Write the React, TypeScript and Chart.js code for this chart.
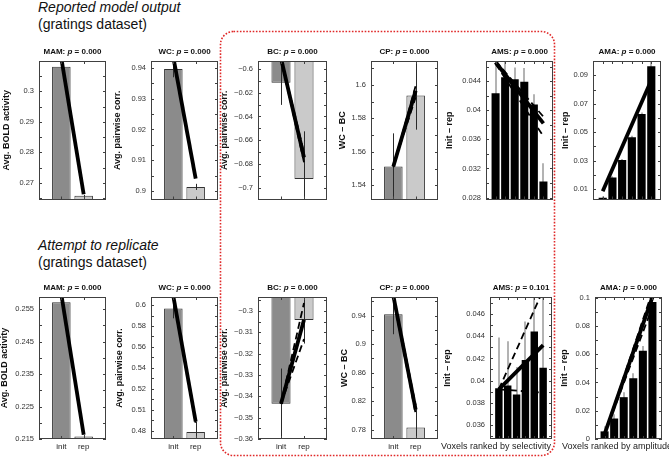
import React, { useEffect, useRef } from 'react';
import { Chart, registerables } from 'chart.js';
Chart.register(...registerables);

const FONT = '"Liberation Sans", Arial, Helvetica, sans-serif';

// ---------- Row 1: reported model output ----------
const r1MamRange = [0.2646, 0.3099];
const r1MamBars = [0.308, 0.2658];
const r1MamErr = [0.0005, 0.0003];
const r1MamFit = [0.3108, 0.2663];
const r1MamTicks = [0.265, 0.27, 0.275, 0.28, 0.285, 0.29, 0.295, 0.3, 0.305];
const r1MamTickText = ['', '0.27', '', '0.28', '', '0.29', '', '0.3', ''];

const r1WcRange = [0.8972, 0.9423];
const r1WcBars = [0.9397, 0.9013];
const r1WcErr = [0.0027, 0.001];
const r1WcFit = [0.9435, 0.904];
const r1WcTicks = [0.9, 0.905, 0.91, 0.915, 0.92, 0.925, 0.93, 0.935, 0.94];
const r1WcTickText = ['0.9', '', '0.91', '', '0.92', '', '0.93', '', '0.94'];

const r1BcRange = [-0.7098, -0.5934];
const r1BcBars = [-0.6117, -0.6925];
const r1BcErr = [0.0186, 0.04];
const r1BcFit = [-0.591, -0.6745];
const r1BcDashA = [-0.5905, -0.6705];
const r1BcDashB = [-0.5915, -0.6785];
const r1BcTicks = [-0.7, -0.69, -0.68, -0.67, -0.66, -0.65, -0.64, -0.63, -0.62, -0.61, -0.6];
const r1BcTickText = ['−0.7', '', '−0.68', '', '−0.66', '', '−0.64', '', '−0.62', '', '−0.6'];

const r1CpRange = [1.5315, 1.6142];
const r1CpBars = [1.5512, 1.5936];
const r1CpErr = [0.0198, 0.0204];
const r1CpFit = [1.5512, 1.5965];
const r1CpDashA = [1.5508, 1.5995];
const r1CpDashB = [1.5516, 1.5925];
const r1CpTicks = [1.54, 1.55, 1.56, 1.57, 1.58, 1.59, 1.6, 1.61];
const r1CpTickText = ['1.54', '', '1.56', '', '1.58', '', '1.6', ''];

const r1AmsRange = [0.02773, 0.04677];
const r1AmsBars = [0.04235, 0.04454, 0.04427, 0.04392, 0.0408, 0.0302];
const r1AmsErr = [0.004, 0.0035, 0.0016, 0.0019, 0.0014, 0.0025];
const r1AmsFit = [0.0466, 0.0382];
const r1AmsDashA = [0.0468, 0.0391];
const r1AmsDashB = [0.0464, 0.0364];
const r1AmsTicks = [0.028, 0.03, 0.032, 0.034, 0.036, 0.038, 0.04, 0.042, 0.044, 0.046];
const r1AmsTickText = ['0.028', '', '0.032', '', '0.036', '', '0.04', '', '0.044', ''];

const r1AmaRange = [0.0027, 0.1001];
const r1AmaBars = [0.004, 0.0182, 0.0304, 0.0464, 0.0628, 0.0964];
const r1AmaErr = [0.0008, 0.0008, 0.0008, 0.0012, 0.001, 0.003];
const r1AmaFit = [0.0085, 0.0865];
const r1AmaTicks = [0.01, 0.02, 0.03, 0.04, 0.05, 0.06, 0.07, 0.08, 0.09, 0.1];
const r1AmaTickText = ['0.01', '', '0.03', '', '0.05', '', '0.07', '', '0.09', ''];

// ---------- Row 2: attempt to replicate ----------
const r2MamRange = [0.215, 0.2587];
const r2MamBars = [0.2571, 0.2158];
const r2MamErr = [0.0006, 0.0004];
const r2MamFit = [0.2595, 0.2163];
const r2MamTicks = [0.215, 0.22, 0.225, 0.23, 0.235, 0.24, 0.245, 0.25, 0.255];
const r2MamTickText = ['0.215', '', '0.225', '', '0.235', '', '0.245', '', '0.255'];

const r2WcRange = [0.4719, 0.6077];
const r2WcBars = [0.5968, 0.4787];
const r2WcErr = [0.0095, 0.0099];
const r2WcFit = [0.6085, 0.4886];
const r2WcDashA = [0.608, 0.487];
const r2WcDashB = [0.609, 0.4902];
const r2WcTicks = [0.48, 0.49, 0.5, 0.51, 0.52, 0.53, 0.54, 0.55, 0.56, 0.57, 0.58, 0.59, 0.6];
const r2WcTickText = ['0.48', '', '0.51', '', '0.52', '', '0.54', '', '0.56', '', '0.58', '', '0.6'];

const r2BcRange = [-0.36, -0.2935];
const r2BcBars = [-0.3435, -0.3043];
const r2BcErr = [0.0165, 0.011];
const r2BcFit = [-0.3435, -0.3042];
const r2BcDashA = [-0.3435, -0.2963];
const r2BcDashB = [-0.3435, -0.3132];
const r2BcTicks = [-0.36, -0.355, -0.35, -0.345, -0.34, -0.335, -0.33, -0.325, -0.32, -0.315, -0.31, -0.305, -0.3, -0.295];
const r2BcTickText = ['−0.36', '', '−0.35', '', '−0.34', '', '−0.33', '', '−0.32', '', '−0.31', '', '−0.3', ''];

const r2CpRange = [0.7667, 0.9662];
const r2CpBars = [0.9419, 0.7828];
const r2CpErr = [0.028, 0.029];
const r2CpFit = [0.968, 0.808];
const r2CpDashA = [0.966, 0.802];
const r2CpDashB = [0.97, 0.814];
const r2CpTicks = [0.78, 0.8, 0.82, 0.84, 0.86, 0.88, 0.9, 0.92, 0.94, 0.96];
const r2CpTickText = ['0.78', '', '0.82', '', '0.86', '', '0.9', '', '0.94', ''];

const r2AmsRange = [0.0347, 0.04757];
const r2AmsBars = [0.03931, 0.03955, 0.03873, 0.04185, 0.04445, 0.04115];
const r2AmsErr = [0.0046, 0.004, 0.0025, 0.0035, 0.0038, 0.007];
const r2AmsFit = [0.0392, 0.0432];
const r2AmsDashA = [0.0392, 0.0482];
const r2AmsDashB = [0.0392, 0.0389];
const r2AmsTicks = [0.035, 0.036, 0.037, 0.038, 0.039, 0.04, 0.041, 0.042, 0.043, 0.044, 0.045, 0.046, 0.047];
const r2AmsTickText = ['', '0.036', '', '0.038', '', '0.04', '', '0.042', '', '0.044', '', '0.046', ''];

const r2AmaRange = [0, 0.1005];
const r2AmaBars = [0.0054, 0.0145, 0.0296, 0.043, 0.0625, 0.0969];
const r2AmaErr = [0.0037, 0.003, 0.0035, 0.0036, 0.0033, 0.004];
const r2AmaFit = [0.0035, 0.1005];
const r2AmaDashA = [0.0035, 0.0935];
const r2AmaDashB = [0.0035, 0.1045];
const r2AmaTicks = [0, 0.01, 0.02, 0.03, 0.04, 0.05, 0.06, 0.07, 0.08, 0.09, 0.1];
const r2AmaTickText = ['0', '', '0.02', '', '0.04', '', '0.06', '', '0.08', '', '0.1'];

const pairLabels = ['init', 'rep'];

type Spec = {
  key: string; row: number; name: string; p: string; yTitle: string; xTitle?: string;
  range: number[]; bars: number[]; err: number[]; fit: number[]; dashed: number[][];
  ticks: number[]; tickText: string[];
};

const specs: Spec[] = [
  { key: 'r1mam', row: 1, name: 'MAM', p: '0.000', yTitle: 'Avg. BOLD activity', range: r1MamRange, bars: r1MamBars, err: r1MamErr, fit: r1MamFit, dashed: [], ticks: r1MamTicks, tickText: r1MamTickText },
  { key: 'r1wc', row: 1, name: 'WC', p: '0.000', yTitle: 'Avg. pairwise corr.', range: r1WcRange, bars: r1WcBars, err: r1WcErr, fit: r1WcFit, dashed: [], ticks: r1WcTicks, tickText: r1WcTickText },
  { key: 'r1bc', row: 1, name: 'BC', p: '0.000', yTitle: 'Avg. pairwise corr.', range: r1BcRange, bars: r1BcBars, err: r1BcErr, fit: r1BcFit, dashed: [r1BcDashA, r1BcDashB], ticks: r1BcTicks, tickText: r1BcTickText },
  { key: 'r1cp', row: 1, name: 'CP', p: '0.000', yTitle: 'WC – BC', range: r1CpRange, bars: r1CpBars, err: r1CpErr, fit: r1CpFit, dashed: [r1CpDashA, r1CpDashB], ticks: r1CpTicks, tickText: r1CpTickText },
  { key: 'r1ams', row: 1, name: 'AMS', p: '0.000', yTitle: 'Init – rep', range: r1AmsRange, bars: r1AmsBars, err: r1AmsErr, fit: r1AmsFit, dashed: [r1AmsDashA, r1AmsDashB], ticks: r1AmsTicks, tickText: r1AmsTickText },
  { key: 'r1ama', row: 1, name: 'AMA', p: '0.000', yTitle: 'Init – rep', range: r1AmaRange, bars: r1AmaBars, err: r1AmaErr, fit: r1AmaFit, dashed: [], ticks: r1AmaTicks, tickText: r1AmaTickText },
  { key: 'r2mam', row: 2, name: 'MAM', p: '0.000', yTitle: 'Avg. BOLD activity', range: r2MamRange, bars: r2MamBars, err: r2MamErr, fit: r2MamFit, dashed: [], ticks: r2MamTicks, tickText: r2MamTickText },
  { key: 'r2wc', row: 2, name: 'WC', p: '0.000', yTitle: 'Avg. pairwise corr.', range: r2WcRange, bars: r2WcBars, err: r2WcErr, fit: r2WcFit, dashed: [r2WcDashA, r2WcDashB], ticks: r2WcTicks, tickText: r2WcTickText },
  { key: 'r2bc', row: 2, name: 'BC', p: '0.000', yTitle: 'Avg. pairwise corr.', range: r2BcRange, bars: r2BcBars, err: r2BcErr, fit: r2BcFit, dashed: [r2BcDashA, r2BcDashB], ticks: r2BcTicks, tickText: r2BcTickText },
  { key: 'r2cp', row: 2, name: 'CP', p: '0.000', yTitle: 'WC – BC', range: r2CpRange, bars: r2CpBars, err: r2CpErr, fit: r2CpFit, dashed: [r2CpDashA, r2CpDashB], ticks: r2CpTicks, tickText: r2CpTickText },
  { key: 'r2ams', row: 2, name: 'AMS', p: '0.101', yTitle: 'Init – rep', xTitle: 'Voxels ranked by selectivity', range: r2AmsRange, bars: r2AmsBars, err: r2AmsErr, fit: r2AmsFit, dashed: [r2AmsDashA, r2AmsDashB], ticks: r2AmsTicks, tickText: r2AmsTickText },
  { key: 'r2ama', row: 2, name: 'AMA', p: '0.000', yTitle: 'Init – rep', xTitle: 'Voxels ranked by amplitude', range: r2AmaRange, bars: r2AmaBars, err: r2AmaErr, fit: r2AmaFit, dashed: [r2AmaDashA, r2AmaDashB], ticks: r2AmaTicks, tickText: r2AmaTickText },
];

// layout (pixel geometry)
const LAYOUT: Record<string, { left: number; right: number; yTitleX: number; cRight?: number; xTitleX?: number }> = {
  r1mam: { left: 39, right: 106, yTitleX: 7 },
  r1wc: { left: 151, right: 218, yTitleX: 118 },
  r1bc: { left: 258, right: 327, yTitleX: 225 },
  r1cp: { left: 371, right: 438, yTitleX: 343 },
  r1ams: { left: 486, right: 553, yTitleX: 450 },
  r1ama: { left: 593, right: 661, yTitleX: 566, cRight: 669 },
  r2mam: { left: 39, right: 106, yTitleX: 5 },
  r2wc: { left: 151, right: 218, yTitleX: 120 },
  r2bc: { left: 258, right: 327, yTitleX: 225 },
  r2cp: { left: 371, right: 438, yTitleX: 345 },
  r2ams: { left: 490, right: 552, yTitleX: 448, xTitleX: 496 },
  r2ama: { left: 595, right: 662, yTitleX: 565, cRight: 669, xTitleX: 617 },
};

function Panel({ spec }: { spec: Spec }) {
  const ref = useRef<HTMLCanvasElement>(null);
  const g = LAYOUT[spec.key];
  const top = spec.row === 1 ? 61 : 297;
  const bottom = spec.row === 1 ? 203 : 439;
  const cLeft = Math.max(0, Math.round(g.yTitleX - 7));
  const cTop = top - 22;
  const cRight = g.cRight ?? g.right + 3;
  const xH = spec.row === 1 ? 6 : 17;
  const w = cRight - cLeft;
  const h = bottom + xH - cTop;

  useEffect(() => {
    const n = spec.bars.length;
    const black = n > 2;
    const showPairLabels = spec.row === 2 && n === 2;

    const drawErr = (chart: any) => {
      const ctx = chart.ctx;
      const xs = chart.scales.x;
      const ys = chart.scales.y;
      const a = chart.chartArea;
      ctx.save();
      ctx.beginPath();
      ctx.rect(a.left, a.top, a.right - a.left, a.bottom - a.top);
      ctx.clip();
      ctx.strokeStyle = black ? '#9a9a9a' : '#2a2a2a';
      ctx.lineWidth = black ? 1.5 : 1;
      spec.bars.forEach((v, i) => {
        const px = Math.round(xs.getPixelForValue(i + 1)) + (black ? 0 : 0.5);
        ctx.beginPath();
        ctx.moveTo(px, ys.getPixelForValue(v - spec.err[i]));
        ctx.lineTo(px, ys.getPixelForValue(v + spec.err[i]));
        ctx.stroke();
      });
      ctx.restore();
    };

    const deco = {
      id: 'deco',
      beforeDatasetDraw(chart: any, args: any) {
        if (args.index === 0 && black) drawErr(chart);
      },
      afterDatasetDraw(chart: any, args: any) {
        if (args.index === 0 && !black) drawErr(chart);
      },
      afterDatasetsDraw(chart: any) {
        const ctx = chart.ctx;
        const a = chart.chartArea;
        const xs = chart.scales.x;
        const ys = chart.scales.y;
        ctx.save();
        // box
        ctx.strokeStyle = '#404040';
        ctx.lineWidth = 1;
        ctx.strokeRect(Math.round(a.left) + 0.5, Math.round(a.top) + 0.5, Math.round(a.right - a.left) - 1, Math.round(a.bottom - a.top) - 1);
        // inward ticks
        ctx.beginPath();
        spec.ticks.forEach((t) => {
          const py = Math.round(ys.getPixelForValue(t)) + 0.5;
          ctx.moveTo(a.left, py); ctx.lineTo(a.left + 3, py);
          ctx.moveTo(a.right, py); ctx.lineTo(a.right - 3, py);
        });
        spec.bars.forEach((_, i) => {
          const px = Math.round(xs.getPixelForValue(i + 1)) + 0.5;
          ctx.moveTo(px, a.top); ctx.lineTo(px, a.top + 3);
          ctx.moveTo(px, a.bottom); ctx.lineTo(px, a.bottom - 3);
        });
        ctx.stroke();
        // title with italic p
        const parts: [string, string][] = [
          [`bold 8px ${FONT}`, `${spec.name}: `],
          [`italic bold 8px ${FONT}`, 'p'],
          [`bold 8px ${FONT}`, ` = ${spec.p}`],
        ];
        let total = 0;
        parts.forEach(([f, s]) => { ctx.font = f; total += ctx.measureText(s).width; });
        let x = (a.left + a.right) / 2 - total / 2;
        ctx.fillStyle = '#111';
        ctx.textBaseline = 'middle';
        ctx.textAlign = 'left';
        parts.forEach(([f, s]) => { ctx.font = f; ctx.fillText(s, x, a.top - 9); x += ctx.measureText(s).width; });
        // y title
        ctx.save();
        ctx.translate(g.yTitleX - cLeft, (a.top + a.bottom) / 2);
        ctx.rotate(-Math.PI / 2);
        ctx.font = `bold 9px ${FONT}`;
        ctx.textAlign = 'center';
        ctx.textBaseline = 'middle';
        ctx.fillText(spec.yTitle, 0, 0);
        ctx.restore();
        // x title
        if (spec.xTitle) {
          ctx.font = `9px ${FONT}`;
          ctx.fillStyle = '#222';
          ctx.textAlign = 'center';
          ctx.textBaseline = 'middle';
          ctx.fillText(spec.xTitle, (g.xTitleX ?? (a.left + a.right) / 2) - cLeft, 447 - cTop);
        }
        ctx.restore();
      },
    };

    const line = (vals: number[], dashedStyle: boolean) => ({
      type: 'line' as const,
      data: [{ x: 1, y: vals[0] }, { x: n, y: vals[1] }],
      borderColor: '#000',
      borderWidth: dashedStyle ? 1.8 : 3.8,
      borderDash: dashedStyle ? [7, 4] : [],
      pointRadius: 0,
      order: dashedStyle ? 2 : 1,
      clip: 0,
    });

    const chart = new Chart(ref.current as HTMLCanvasElement, {
      type: 'bar',
      data: {
        datasets: [
          {
            type: 'bar',
            data: spec.bars.map((v, i) => ({ x: i + 1, y: v })),
            backgroundColor: black ? '#000' : ['#8b8b8b', '#cacaca'],
            borderColor: '#333',
            borderWidth: black ? 0 : 1,
            borderSkipped: false,
            categoryPercentage: 1,
            barPercentage: black ? 0.84 : 0.83,
            order: 10,
            clip: 0,
          } as any,
          ...spec.dashed.map((d) => line(d, true)),
          line(spec.fit, false),
        ],
      },
      options: {
        responsive: false,
        animation: false,
        devicePixelRatio: 1,
        events: [],
        layout: { padding: { top: top - cTop, right: cRight - g.right, left: 0, bottom: 0 } },
        plugins: { legend: { display: false }, tooltip: { enabled: false }, title: { display: false } },
        scales: {
          x: {
            type: 'linear',
            min: 0,
            max: n + 1,
            offset: false,
            grid: { display: false, drawTicks: false },
            border: { display: false },
            afterBuildTicks: (s: any) => { s.ticks = spec.bars.map((_, i) => ({ value: i + 1 })); },
            afterFit: (s: any) => { s.height = xH; },
            ticks: {
              display: showPairLabels,
              autoSkip: false,
              maxRotation: 0,
              padding: 3,
              font: { family: FONT, size: 8 },
              color: '#222',
              callback: (_v: any, i: number) => (showPairLabels ? pairLabels[i] : ''),
            },
          },
          y: {
            type: 'linear',
            min: spec.range[0],
            max: spec.range[1],
            grid: { display: false, drawTicks: false },
            border: { display: false },
            afterBuildTicks: (s: any) => { s.ticks = spec.ticks.map((v) => ({ value: v })); },
            afterFit: (s: any) => { s.width = g.left - cLeft; },
            ticks: {
              autoSkip: false,
              padding: 5,
              font: { family: FONT, size: 7.5 },
              color: '#333',
              callback: (_v: any, i: number) => spec.tickText[i] ?? '',
            },
          },
        },
      } as any,
      plugins: [deco],
    });
    return () => chart.destroy();
  }, []);

  return (
    <canvas
      ref={ref}
      width={w}
      height={h}
      style={{ position: 'absolute', left: cLeft, top: cTop, width: w, height: h, display: 'block' }}
    />
  );
}

const headStyle: React.CSSProperties = {
  position: 'absolute',
  left: 38,
  fontFamily: FONT,
  fontSize: 14,
  lineHeight: '16px',
  color: '#111',
  whiteSpace: 'nowrap',
};

export default function App() {
  return (
    <div style={{ position: 'absolute', left: 0, top: 0, width: 669, height: 462, background: '#fff', overflow: 'hidden' }}>
      <div style={{ ...headStyle, top: -1, fontStyle: 'italic' }}>Reported model output</div>
      <div style={{ ...headStyle, top: 16 }}>(gratings dataset)</div>
      <div style={{ ...headStyle, top: 237, fontStyle: 'italic' }}>Attempt to replicate</div>
      <div style={{ ...headStyle, top: 254 }}>(gratings dataset)</div>
      {specs.map((s) => (
        <Panel key={s.key} spec={s} />
      ))}
      <svg width={669} height={462} style={{ position: 'absolute', left: 0, top: 0, pointerEvents: 'none' }}>
        <rect x={220.5} y={31.5} width={334} height={424} rx={13} ry={13} fill="none" stroke="#e02828" strokeWidth={1.6} strokeDasharray="1.6 1.6" />
      </svg>
    </div>
  );
}
